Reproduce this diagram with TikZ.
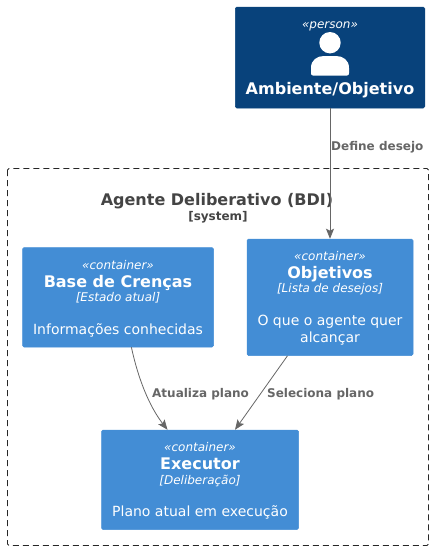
\documentclass[tikz,border=0pt]{standalone}
\usepackage{fontspec}
\setmainfont{DejaVu Sans}
\usetikzlibrary{arrows.meta,positioning}
\definecolor{personblue}{HTML}{08427B}
\definecolor{contblue}{HTML}{438DD5}
\definecolor{edgegray}{HTML}{666666}
\definecolor{titlegray}{HTML}{444444}
\tikzset{
  box/.style={draw=#1,fill=#1,rounded corners=1.5pt,line width=.5pt,inner sep=0pt},
  line/.style={text=white,inner sep=0pt,anchor=base},
  stereo/.style={line,font=\fontsize{12}{14}\selectfont\itshape},
  cname/.style={line,font=\fontsize{16}{19}\selectfont\bfseries},
  ctech/.style={line,font=\fontsize{12}{14}\selectfont\itshape},
  cdesc/.style={line,font=\fontsize{14}{17}\selectfont},
  rel/.style={draw=edgegray,line width=.8pt,-{Stealth[length=10pt,width=8pt,inset=2pt]}},
  rellabel/.style={text=edgegray,font=\fontsize{12}{14}\selectfont\bfseries,inner sep=0pt,anchor=base west}
}
\begin{document}
\begin{tikzpicture}[x=1pt,y=-1pt]
\useasboundingbox (0,0) rectangle (433,550);
\draw[dash pattern=on 6pt off 4pt,line width=.9pt,rounded corners=1.5pt,draw=black!85] (7.5,168.5) rectangle (428.5,545.5);
\node[line,text=titlegray,font=\fontsize{16}{19}\selectfont\bfseries] (title) at (217,205) {Agente Deliberativo (BDI)};
\node[line,text=titlegray,font=\fontsize{12}{14}\selectfont\bfseries] (kind) at (218,220) {[system]};
% person
\node[box=personblue,minimum width=189.5pt,minimum height=101pt] (person) at (330,57.5) {};
\node[stereo] (plabel) at (330,28) {«person»};
\node[cname] (pname) at (330,94) {Ambiente/Objetivo};
\fill[white] (330,42.7) circle (10.7pt);
\fill[white] (313,75.5) -- (347,75.5) .. controls (348.5,75.5) and (349,74.5) .. (349,73) -- (349,68) .. controls (349,60) and (343,56) .. (336,56) -- (324,56) .. controls (317,56) and (311,60) .. (311,68) -- (311,73) .. controls (311,74.5) and (311.5,75.5) .. (313,75.5) -- cycle;
% containers
\node[box=contblue,minimum width=191pt,minimum height=99.5pt] (base) at (118,297.25) {};
\node[stereo] (basestereo) at (118,269) {«container»};
\node[cname] (basename) at (118,287) {Base de Crenças};
\node[ctech] (basetech) at (118,301) {[Estado atual]};
\node[cdesc] (basedesc) at (118,334) {Informações conhecidas};
\node[box=contblue,minimum width=166pt,minimum height=116.5pt] (obj) at (330,297.25) {};
\node[stereo] (objstereo) at (330,260.5) {«container»};
\node[cname] (objname) at (330,278.5) {Objetivos};
\node[ctech] (objtech) at (330,292.5) {[Lista de desejos]};
\node[cdesc] (objdesc) at (330,325.5) {O que o agente quer};
\node[cdesc] (objdesctwo) at (330,342) {alcançar};
\node[box=contblue,minimum width=197pt,minimum height=99.5pt] (exec) at (200,479.75) {};
\node[stereo] (execstereo) at (200,451) {«container»};
\node[cname] (execname) at (200,469) {Executor};
\node[ctech] (exectech) at (200,484) {[Deliberação]};
\node[cdesc] (execdesc) at (200,516) {Plano atual em execução};
% relations
\draw[rel] (person.south) -- (obj.north);
\draw[rel] (base.-75) .. controls (138,378) and (149,406) .. (exec.123);
\draw[rel] (obj.-126) -- (exec.55);
\node[rellabel] (deflabel) at (331,150) {Define desejo};
\node[rellabel] (atulabel) at (152,397) {Atualiza plano};
\node[rellabel] (sellabel) at (267,397) {Seleciona plano};
\end{tikzpicture}
\end{document}
